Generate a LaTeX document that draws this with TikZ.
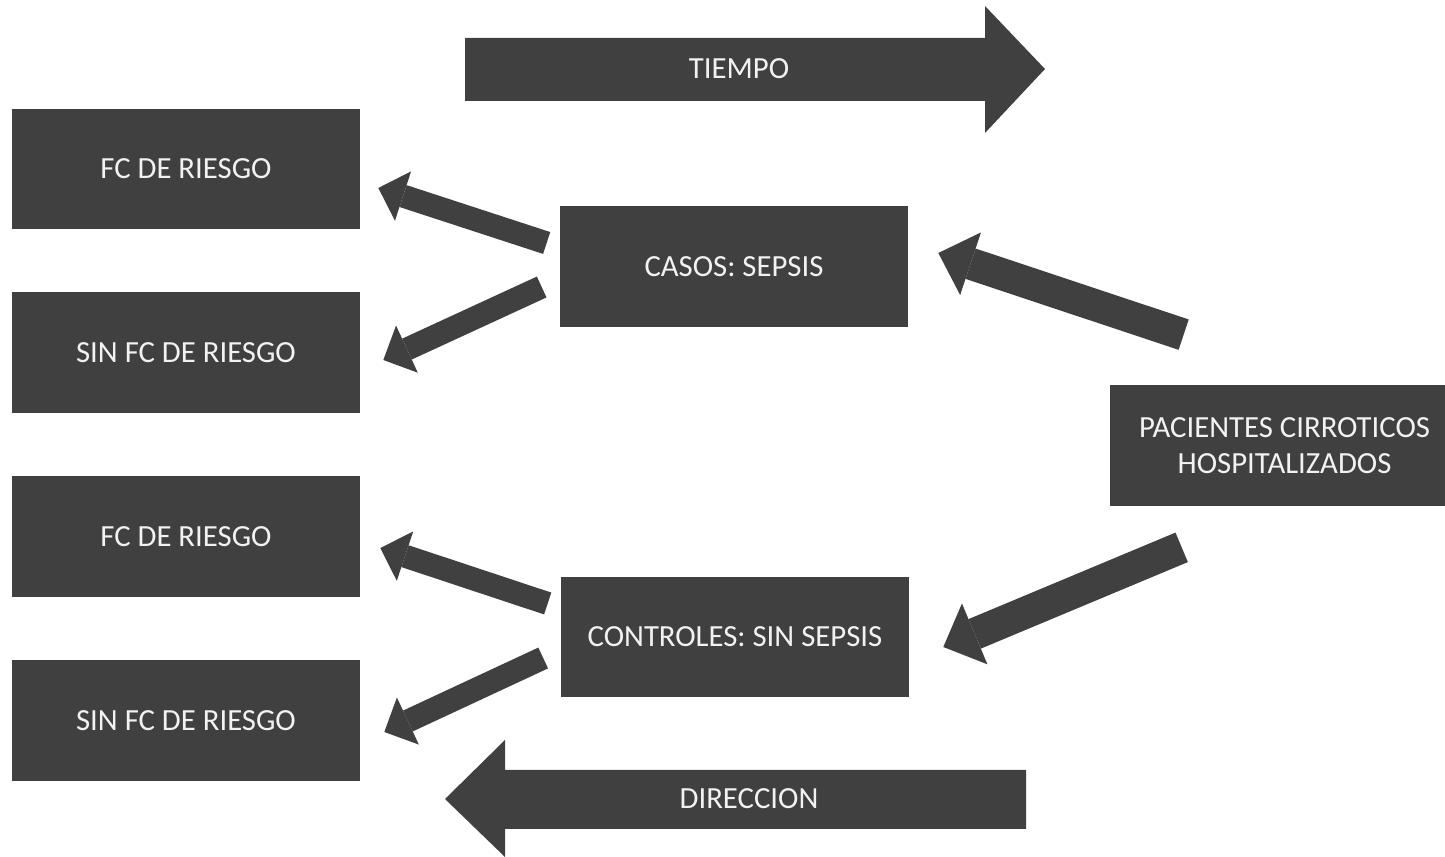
\documentclass[tikz,border=0pt]{standalone}
\usepackage{fontspec}
\setmainfont{Carlito}
\usetikzlibrary{arrows.meta,calc}
\definecolor{oscuro}{HTML}{404040}
\definecolor{claro}{HTML}{F2F2F2}
\begin{document}
\begin{tikzpicture}[x=0.02cm,y=-0.02cm,
  caja/.style={fill=oscuro,text=claro,minimum width=6.96cm,minimum height=2.42cm,inner sep=0pt,align=center,font=\fontsize{17.5}{20.5}\selectfont},
  rotulo/.style={text=claro,font=\fontsize{17.5}{20.5}\selectfont},
  flechita/.style={draw=oscuro,line width=0.46cm,-{Triangle[width=1.04cm,length=0.52cm,line width=0pt]}},
  flechon/.style={draw=oscuro,line width=0.64cm,-{Triangle[width=1.32cm,length=0.68cm,line width=0pt]}}]
\useasboundingbox (0,0) rectangle (1445,857);
\fill[oscuro] (465,38) -- (985,38) -- (985,6) -- (1045,69) -- (985,133) -- (985,101) -- (465,101) -- cycle;
\node[rotulo] (tiempo) at (739,69) {TIEMPO};
\fill[oscuro] (1026,770) -- (505,770) -- (505,740) -- (445,799) -- (505,857) -- (505,829) -- (1026,829) -- cycle;
\node[rotulo] (direccion) at (749,799) {DIRECCION};
\node[caja] (fc1) at (186,169) {FC DE RIESGO};
\node[caja] (sin1) at (186,352.5) {SIN FC DE RIESGO};
\node[caja] (fc2) at (186,536.5) {FC DE RIESGO};
\node[caja] (sin2) at (186,720.5) {SIN FC DE RIESGO};
\node[caja] (casos) at (734,266.5) {CASOS: SEPSIS};
\node[caja] (controles) at (735,637) {CONTROLES: SIN SEPSIS};
\node[caja,minimum width=6.7cm] (pac) at (1277.5,445.5) {\hspace*{8pt}PACIENTES CIRROTICOS\\\hspace*{8pt}HOSPITALIZADOS};
\draw[flechon] ($(pac.north west)+(74,-50)$) -- ($(casos.east)+(30,-13.5)$);
\draw[flechon] ($(pac.south west)+(72,41)$) -- ($(controles.east)+(34,10)$);
\draw[flechita] ($(casos.west)+(-13,-23.5)$) -- ($(fc1.east)+(18,19)$);
\draw[flechita] ($(casos.west)+(-18,20.5)$) -- ($(sin1.east)+(23,7.5)$);
\draw[flechita] ($(controles.west)+(-13,-33.5)$) -- ($(fc2.east)+(20,11.5)$);
\draw[flechita] ($(controles.west)+(-17.5,21)$) -- ($(sin2.east)+(24,11.5)$);
\end{tikzpicture}
\end{document}
